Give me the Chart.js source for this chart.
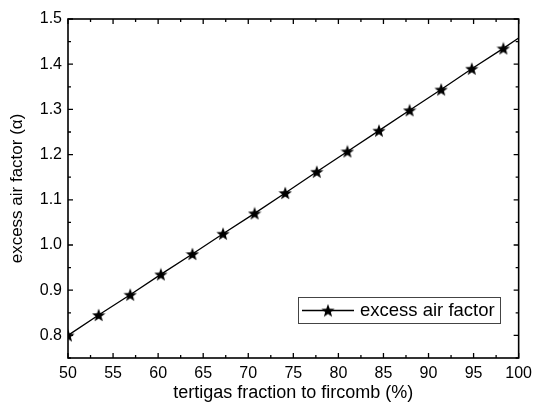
<!DOCTYPE html>
<html><head><meta charset="utf-8">
<script src="https://cdn.jsdelivr.net/npm/chart.js@4/dist/chart.umd.min.js"></script>
<style>html,body{margin:0;padding:0;background:#fff}#wrap{width:538px;height:408px;position:relative}</style>
</head><body><div id="wrap"><canvas id="c" width="538" height="408"></canvas></div>
<script>
const seriesLabel = "excess air factor";
const xValues = [50, 53.4, 56.9, 60.3, 63.8, 67.2, 70.7, 74.1, 77.6, 81.0, 84.5, 87.9, 91.4, 94.8, 98.3, 100];
const yValues = [0.800, 0.845, 0.890, 0.935, 0.980, 1.025, 1.070, 1.115, 1.162, 1.207, 1.253, 1.298, 1.344, 1.390, 1.435, 1.458];
const hasMarker = [1,1,1,1,1,1,1,1,1,1,1,1,1,1,1,0];
const xTickLabels = [50, 55, 60, 65, 70, 75, 80, 85, 90, 95, 100];
const yTickLabels = [0.8, 0.9, 1.0, 1.1, 1.2, 1.3, 1.4, 1.5];
const xMinorTicks = [52.5, 57.5, 62.5, 67.5, 72.5, 77.5, 82.5, 87.5, 92.5, 97.5];
const yMinorTicks = [0.75, 0.85, 0.95, 1.05, 1.15, 1.25, 1.35, 1.45];

const FONT = "'Liberation Sans', Arial, sans-serif";

function makeStar(size) {
  const cv = document.createElement('canvas');
  cv.width = size; cv.height = size;
  const g = cv.getContext('2d');
  const cx = size/2, cy = size/2 + 0.6, R = size/2, r = R*0.42;
  g.beginPath();
  for (let i = 0; i < 10; i++) {
    const a = -Math.PI/2 + i*Math.PI/5;
    const rad = i % 2 === 0 ? R : r;
    const px = cx + rad*Math.cos(a), py = cy + rad*Math.sin(a);
    if (i === 0) g.moveTo(px, py); else g.lineTo(px, py);
  }
  g.closePath();
  g.fillStyle = '#000';
  g.fill();
  return cv;
}
const star = makeStar(14);

const frame = {
  id: 'frame',
  afterDraw(chart) {
    const {ctx, chartArea: a, scales} = chart;
    const xs = scales.x, ys = scales.y;
    ctx.save();
    ctx.strokeStyle = '#000';
    ctx.lineWidth = 1.6;
    ctx.strokeRect(a.left, a.top, a.right - a.left, a.bottom - a.top);
    ctx.lineWidth = 1.3;
    ctx.beginPath();
    const tick = (vals, len) => {
      vals.forEach(v => {
        const px = xs.getPixelForValue(v);
        ctx.moveTo(px, a.bottom); ctx.lineTo(px, a.bottom - len);
        ctx.moveTo(px, a.top); ctx.lineTo(px, a.top + len);
      });
    };
    const tickY = (vals, len) => {
      vals.forEach(v => {
        const py = ys.getPixelForValue(v);
        ctx.moveTo(a.left, py); ctx.lineTo(a.left + len, py);
        ctx.moveTo(a.right, py); ctx.lineTo(a.right - len, py);
      });
    };
    tick(xTickLabels, 5); tick(xMinorTicks, 3);
    tickY(yTickLabels, 5); tickY(yMinorTicks, 3);
    ctx.stroke();

    // legend box
    const lx = 298, ly = 297, lw = 202, lh = 26;
    ctx.lineWidth = 1;
    ctx.strokeStyle = '#444';
    ctx.fillStyle = '#fff';
    ctx.fillRect(lx, ly, lw, lh);
    ctx.strokeRect(lx + 0.5, ly + 0.5, lw, lh);
    ctx.strokeStyle = '#000';
    ctx.lineWidth = 1.3;
    ctx.beginPath();
    ctx.moveTo(lx + 4, ly + 13.5); ctx.lineTo(lx + 56, ly + 13.5);
    ctx.stroke();
    ctx.drawImage(star, lx + 30 - 7, ly + 13.5 - 7);
    ctx.fillStyle = '#000';
    ctx.font = "18.5px " + FONT;
    ctx.textBaseline = 'middle';
    ctx.textAlign = 'left';
    ctx.fillText(chart.data.datasets[0].label, lx + 62, ly + 14);
    ctx.restore();
  }
};

new Chart(document.getElementById('c'), {
  type: 'line',
  data: {
    datasets: [{
      label: seriesLabel,
      data: xValues.map((x, i) => ({x, y: yValues[i]})),
      borderColor: '#000',
      borderWidth: 1.3,
      backgroundColor: '#000',
      pointStyle: star,
      pointRadius: hasMarker.map(m => m ? 7 : 0),
      pointHoverRadius: 0,
      tension: 0,
      fill: false
    }]
  },
  options: {
    responsive: false,
    animation: false,
    events: [],
    layout: {padding: {top: 19, right: 14, left: 0, bottom: 0}},
    plugins: {legend: {display: false}, tooltip: {enabled: false}},
    scales: {
      x: {
        type: 'linear', min: 50, max: 100,
        afterBuildTicks(s) { s.ticks = xTickLabels.map(v => ({value: v})); },
        afterFit(s) { s.height = 50; },
        grid: {display: false, drawTicks: false},
        border: {display: false},
        ticks: {color: '#000', padding: 6, maxRotation: 0, autoSkip: false,
          font: {family: FONT, size: 16}, callback: v => String(v)},
        title: {display: true, text: 'tertigas fraction to fircomb (%)', color: '#000',
          font: {family: FONT, size: 18}, padding: {top: 0, bottom: 4}}
      },
      y: {
        type: 'linear', min: 0.75, max: 1.5,
        afterBuildTicks(s) { s.ticks = yTickLabels.map(v => ({value: v})); },
        afterFit(s) { s.width = 68; },
        grid: {display: false, drawTicks: false},
        border: {display: false},
        ticks: {color: '#000', padding: 6, autoSkip: false,
          font: {family: FONT, size: 16}, callback: v => Number(v).toFixed(1)},
        title: {display: true, text: 'excess air factor (α)', color: '#000',
          font: {family: FONT, size: 17}, padding: {top: 7, bottom: 0}}
      }
    }
  },
  plugins: [frame]
});
</script></body></html>
